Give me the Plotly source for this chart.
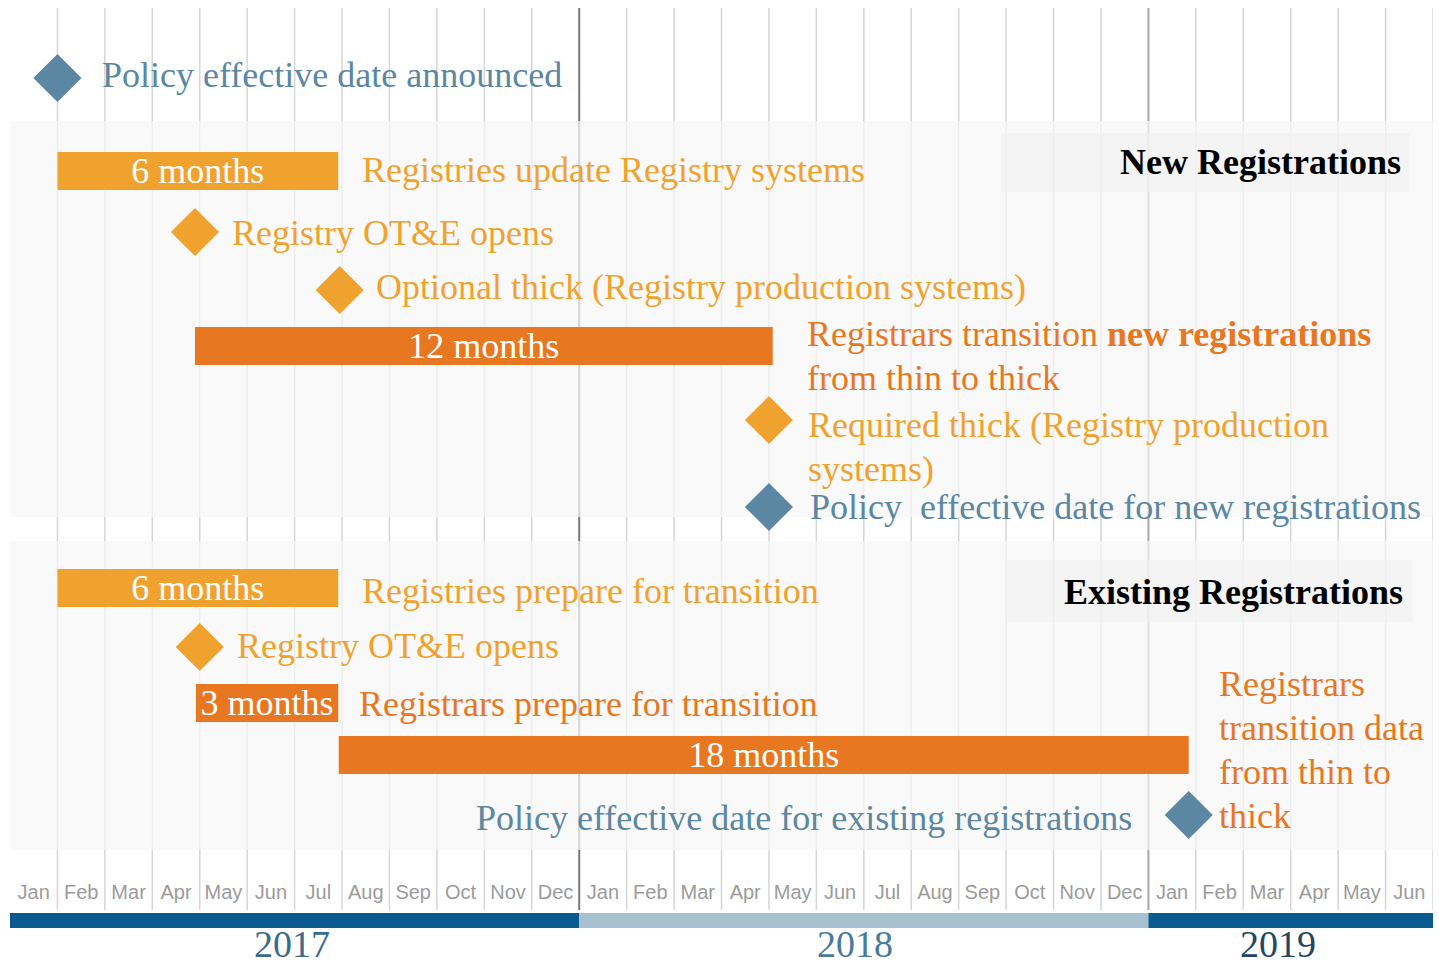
import plotly.graph_objects as go

# Eixo do tempo: meses de jan/2017 a jun/2019 (x = meses desde jan/2017)
MONTHS = ["Jan", "Feb", "Mar", "Apr", "May", "Jun", "Jul", "Aug", "Sep", "Oct", "Nov", "Dec"]
YEARS = ["2017", "2018", "2019"]
YEAR_MONTHS = [12, 12, 6]

# Barras de duração
BAR_TEXT = ["6 months", "12 months", "6 months", "3 months", "18 months"]
BAR_START = [1.0, 3.9, 1.0, 3.92, 6.93]
BAR_END = [6.92, 16.08, 6.92, 6.92, 24.85]
BAR_KIND = ["registry", "registrar", "registry", "registrar", "registrar"]
BAR_LABEL = [
    "Registries update Registry systems",
    "Registrars transition <b>new registrations</b><br>from thin to thick",
    "Registries prepare for transition",
    "Registrars prepare for transition",
    "Registrars<br>transition data<br>from thin to<br>thick",
]

# Marcos (losangos)
MS_MONTH = [1.0, 3.9, 6.95, 16.0, 16.0, 4.0, 24.85]
MS_KIND = ["policy", "registry", "registry", "registry", "policy", "registry", "policy"]
MS_LABEL = [
    "Policy effective date announced",
    "Registry OT&E opens",
    "Optional thick (Registry production systems)",
    "Required thick (Registry production<br>systems)",
    "Policy\u00a0 effective date for new registrations",
    "Registry OT&E opens",
    "Policy effective date for existing registrations",
]

SECTIONS = ["New Registrations", "Existing Registrations"]

# ---- layout (eixo y em pixels, 0 = topo) ----
W, H = 1439, 966
LINE_H = 44
BAR_ROW = [171, 346, 588, 703, 755]
BAR_LABEL_POS = [(22, 170), (32, 334), (22, 591), (19, 704), (28, 684)]  # (deslocamento px, y 1a linha)
MS_ROW = [78, 232, 290, 420, 507, 647, 815]
MS_LABEL_POS = [(43, 75, "left"), (35, 233, "left"), (34, 287, "left"), (37, 425, "left"),
                (39, 507, "left"), (35, 646, "left"), (-55, 818, "right")]
PANELS = [(121, 517), (541, 850)]
SECTION_BOX = [(20.9, 29.5, 133, 192), (21.0, 29.57, 560, 622)]
SECTION_POS = [(29.36, 162), (29.42, 592)]
YEAR_LABEL_SHIFT = [-3, -9, -13]

COLORS = {"policy": "#5b87a3", "registry": "#f0a22e", "registrar": "#e87722"}
SERIF = "Liberation Serif"

fig = go.Figure()

# linhas verticais dos meses
n_months = sum(YEAR_MONTHS)
year_starts = [sum(YEAR_MONTHS[:i]) for i in range(len(YEARS))]
for m in range(1, n_months + 1):
    if m in year_starts:
        color, width = ("#7a7a7a" if m == year_starts[1] else "#a8a8a8"), 2
    else:
        color, width = "#d6d6d6", 1.5
    fig.add_shape(type="line", x0=m, x1=m, y0=8, y1=910, xref="x", yref="y",
                  line=dict(color=color, width=width), layer="below")

# painéis de fundo
for y0, y1 in PANELS:
    fig.add_shape(type="rect", x0=0, x1=n_months + 0.05, y0=y0, y1=y1, xref="x", yref="y",
                  fillcolor="rgba(247,247,247,0.72)", line_width=0, layer="below")
for x0, x1, y0, y1 in SECTION_BOX:
    fig.add_shape(type="rect", x0=x0, x1=x1, y0=y0, y1=y1, xref="x", yref="y",
                  fillcolor="rgba(240,240,240,0.6)", line_width=0, layer="below")

# barras
fig.add_trace(go.Bar(
    orientation="h",
    y=BAR_ROW,
    base=BAR_START,
    x=[e - s for s, e in zip(BAR_START, BAR_END)],
    width=38,
    marker=dict(color=[COLORS[k] for k in BAR_KIND], line_width=0),
    text=BAR_TEXT,
    textposition="inside",
    insidetextanchor="middle",
    constraintext="none",
    textfont=dict(family=SERIF, size=36, color="white"),
    hoverinfo="skip",
))

# marcos
fig.add_trace(go.Scatter(
    x=MS_MONTH, y=MS_ROW, mode="markers",
    marker=dict(symbol="diamond", size=37, color=[COLORS[k] for k in MS_KIND], line_width=0),
    hoverinfo="skip",
))


def add_label(x, y, text, dx, anchor, color):
    # uma anotação por linha, para controlar o espaçamento
    for k, line in enumerate(text.split("<br>")):
        fig.add_annotation(x=x, y=y + k * LINE_H, xref="x", yref="y", text=line, showarrow=False,
                           xanchor=anchor, yanchor="middle", xshift=dx,
                           font=dict(family=SERIF, size=36, color=color))


for i, lab in enumerate(BAR_LABEL):
    dx, y = BAR_LABEL_POS[i]
    add_label(BAR_END[i], y, lab, dx, "left", COLORS[BAR_KIND[i]])
for i, lab in enumerate(MS_LABEL):
    dx, y, anchor = MS_LABEL_POS[i]
    add_label(MS_MONTH[i], y, lab, dx, anchor, COLORS[MS_KIND[i]])
for lab, (x, y) in zip(SECTIONS, SECTION_POS):
    fig.add_annotation(x=x, y=y, xref="x", yref="y", text="<b>" + lab + "</b>", showarrow=False,
                       xanchor="right", yanchor="middle",
                       font=dict(family=SERIF, size=36, color="black"))

# faixa dos anos
year_fill = ["#0a5b8f", "#a8c1d0", "#0a5b8f"]
year_font = ["#3a6a8c", "#4a7a9a", "#24475f"]
for i, yr in enumerate(YEARS):
    s = year_starts[i]
    e = s + YEAR_MONTHS[i]
    fig.add_shape(type="rect", x0=s, x1=e, y0=913, y1=928, xref="x", yref="y",
                  fillcolor=year_fill[i], line_width=0)
    fig.add_annotation(x=(s + e) / 2, y=944, xref="x", yref="y", text=yr, showarrow=False,
                       yanchor="middle", xshift=YEAR_LABEL_SHIFT[i],
                       font=dict(family=SERIF, size=38, color=year_font[i]))

tick_text = [MONTHS[k] for n in YEAR_MONTHS for k in range(n)]
fig.update_layout(
    width=W, height=H,
    margin=dict(l=0, r=0, t=0, b=0),
    paper_bgcolor="white", plot_bgcolor="rgba(0,0,0,0)",
    showlegend=False,
    xaxis=dict(
        range=[0, n_months], domain=[10 / W, 1433 / W],
        anchor="free", position=88 / H,
        tickmode="array", tickvals=[m + 0.5 for m in range(n_months)], ticktext=tick_text,
        tickangle=0, ticks="", showgrid=False, zeroline=False, showline=False,
        tickfont=dict(family="Liberation Sans", size=20, color="#9b9b9b"),
    ),
    yaxis=dict(range=[H, 0], domain=[0, 1], visible=False),
)

# sem margem do <body>, para a figura ocupar a janela inteira
fig.write_html("out.html", config={"displayModeBar": False},
               post_script="document.body.style.margin='0';")
